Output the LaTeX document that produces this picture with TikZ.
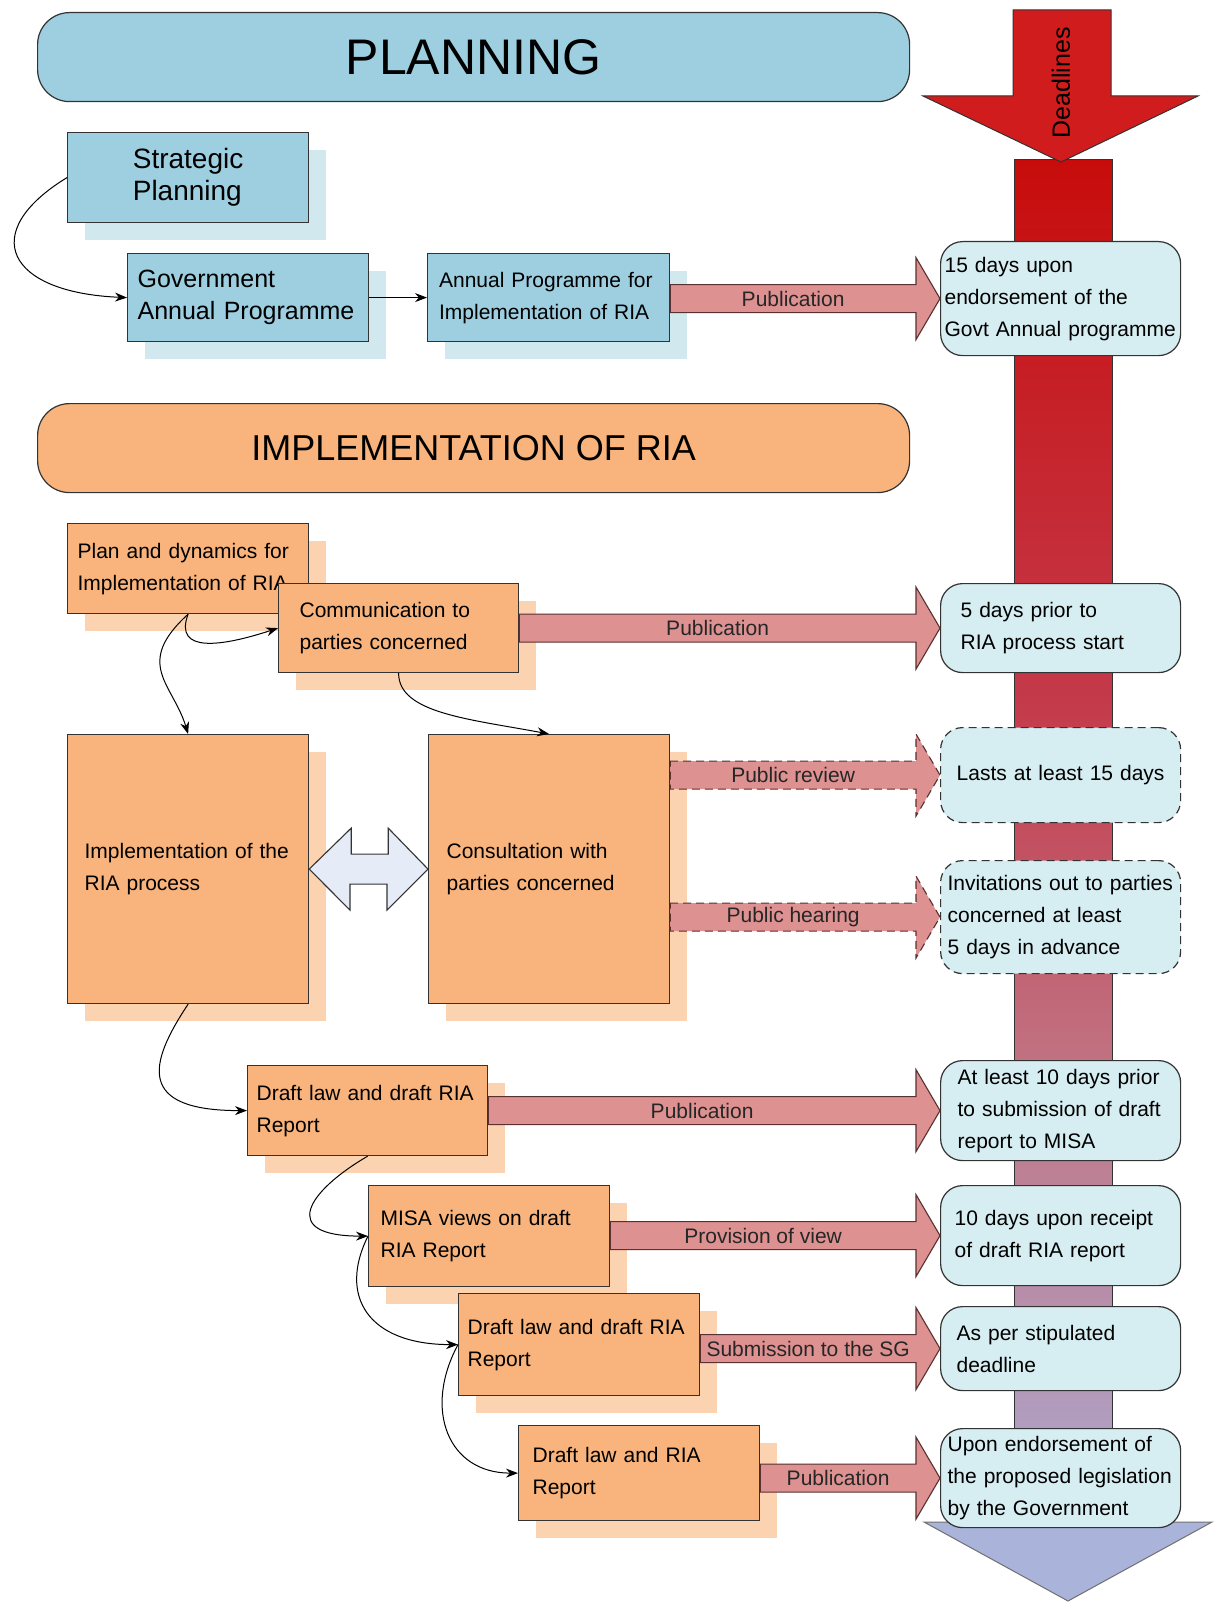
\documentclass[tikz,border=0pt]{standalone}
\usepackage{fontspec}
\setmainfont{Liberation Sans}
\usetikzlibrary{calc,shadows,arrows.meta}
\definecolor{bluefill}{HTML}{9DCFE0}
\definecolor{blueshadow}{HTML}{D2E8EF}
\definecolor{orangefill}{HTML}{F8B47C}
\definecolor{orangeshadow}{HTML}{FCD3B0}
\definecolor{deadfill}{HTML}{D6EDF1}
\definecolor{pinkfill}{HTML}{DD9191}
\definecolor{pinkline}{HTML}{5A3030}
\definecolor{edgecol}{HTML}{333333}
\definecolor{dblfill}{HTML}{E5EBF7}
\definecolor{redhead}{HTML}{D01C1C}
\definecolor{shaftA}{HTML}{C80C0C}
\definecolor{shaftB}{HTML}{C43A4A}
\definecolor{shaftC}{HTML}{C07888}
\definecolor{shaftD}{HTML}{ACA8D0}
\definecolor{lavhead}{HTML}{AAB3DA}
\newcommand{\blockarrow}[4][]{%
  \coordinate (#3-s) at (#2.east |- #3.west);
  \draw[blockarr,#1] ($(#3-s)+(0,-14)$) -- ($(#3.west)+(-24,-14)$) -- ($(#3.west)+(-24,-41)$) -- (#3.west) -- ($(#3.west)+(-24,41)$) -- ($(#3.west)+(-24,14)$) -- ($(#3-s)+(0,14)$) -- cycle;
  \node[alabel] (#3-lab) at ($(#3-s)!0.5!($(#3.west)+(-24,0)$)$) {#4};}
\begin{document}
\begin{tikzpicture}[x=1pt,y=-1pt,
  base/.style={draw=edgecol, line width=1.2pt, inner ysep=0pt, inner xsep=2pt, align=left, anchor=north west, font=\fontsize{21}{32}\selectfont},
  bbox/.style={base, fill=bluefill, drop shadow={shadow xshift=17pt, shadow yshift=-17pt, opacity=1, fill=blueshadow}},
  obox/.style={base, fill=orangefill, drop shadow={shadow xshift=17pt, shadow yshift=-17pt, opacity=1, fill=orangeshadow}},
  dbox/.style={base, fill=deadfill, rounded corners=22pt, minimum width=240pt},
  dashbox/.style={dash pattern=on 8pt off 5pt},
  banner/.style={draw=edgecol, line width=1.2pt, rounded corners=32pt, minimum width=872pt, minimum height=89pt, anchor=north west},
  conn/.style={draw=black, line width=1pt, -{Stealth[length=12pt,width=9pt]}},
  blockarr/.style={draw=pinkline, fill=pinkfill, line width=1.1pt, line join=miter},
  alabel/.style={font=\fontsize{21}{24}\selectfont, text=black!85, inner sep=0pt},
]
\fill[white] (0,0) rectangle (1224,1602);
\useasboundingbox (0,0) rectangle (1224,1602);

% deadline shaft
\shade[top color=shaftA, bottom color=shaftB] (1014,160) rectangle (1112,700);
\shade[top color=shaftB, bottom color=shaftC] (1014,699) rectangle (1112,1100);
\shade[top color=shaftC, bottom color=shaftD] (1014,1099) rectangle (1112,1522);
\draw[edgecol, line width=1pt] (1014,160) rectangle (1112,1522);
\draw[fill=redhead, draw=edgecol, line width=1pt] (1013,10) -- (1111,10) -- (1111,96) -- (1198,96) -- (1061,162) -- (923,96) -- (1013,96) -- cycle;
\node[rotate=90, font=\fontsize{25}{25}\selectfont, inner sep=0pt] (dl) at (1061,83) {Deadlines};
\draw[fill=lavhead, draw=edgecol!70, line width=1pt] (924,1522) -- (1212,1522) -- (1068,1601) -- cycle;

% banners
\node[banner, fill=bluefill, font=\fontsize{50}{60}\selectfont] (bplan) at (37,12) {PLANNING};
\node[banner, fill=orangefill, font=\fontsize{36}{44}\selectfont] (bimpl) at (37,403) {IMPLEMENTATION OF RIA};

% deadline boxes
\node[dbox, minimum height=114pt, text width=232pt] (d1) at (940,241) {15 days upon\\endorsement of the\\Govt Annual programme};
\node[dbox, minimum height=89pt, text width=200pt] (d2) at (940,583) {5 days prior to\\RIA process start};
\node[dbox, dashbox, minimum height=95pt, text width=232pt, align=center] (d3) at (940,727) {Lasts at least 15 days};
\node[dbox, dashbox, minimum height=113pt, text width=226pt] (d4) at (940,860) {Invitations out to parties\\concerned at least\\5 days in advance};
\node[dbox, minimum height=100pt, text width=206pt] (d5) at (940,1060) {At least 10 days prior\\to submission of draft\\report to MISA};
\node[dbox, minimum height=100pt, text width=212pt] (d6) at (940,1185) {10 days upon receipt\\of draft RIA report};
\node[dbox, minimum height=84pt, text width=208pt] (d7) at (940,1306) {As per stipulated\\deadline};
\node[dbox, minimum height=99pt, text width=226pt] (d8) at (940,1428) {Upon endorsement of\\the proposed legislation\\by the Government};

% planning boxes
\node[bbox, minimum width=241pt, minimum height=90pt, font=\fontsize{28}{32}\selectfont] (sp) at (67,132) {Strategic\\Planning};
\node[bbox, minimum width=241pt, minimum height=88pt, text width=221pt, font=\fontsize{25}{32}\selectfont] (gov) at (127,253) {Government\\Annual Programme};
\node[bbox, minimum width=242pt, minimum height=88pt, text width=219pt] (annual) at (427,253) {Annual Programme for\\Implementation of RIA};

% implementation boxes
\node[obox, minimum width=241pt, minimum height=90pt, text width=221pt] (pd) at (67,523) {Plan and dynamics for\\Implementation of RIA};
\node[obox, minimum width=240pt, minimum height=89pt, text width=198pt] (comm) at (278,583) {Communication to\\parties concerned};
\node[obox, minimum width=241pt, minimum height=269pt, text width=207pt] (impl) at (67,734) {Implementation of the\\RIA process};
\node[obox, minimum width=241pt, minimum height=269pt, text width=205pt] (cons) at (428,734) {Consultation with\\parties concerned};
\node[obox, minimum width=240pt, minimum height=90pt, text width=222pt] (dr1) at (247,1065) {Draft law and draft RIA\\Report};
\node[obox, minimum width=241pt, minimum height=101pt, text width=217pt] (misa) at (368,1185) {MISA views on draft\\RIA Report};
\node[obox, minimum width=241pt, minimum height=102pt, text width=223pt] (dr2) at (458,1293) {Draft law and draft RIA\\Report};
\node[obox, minimum width=241pt, minimum height=95pt, text width=213pt] (dr3) at (518,1425) {Draft law and RIA\\Report};

% double arrow between implementation and consultation
\draw[fill=dblfill, draw=edgecol, line width=1.1pt, line join=miter] (impl.east) -- ++(42,-41) -- ++(0,26) -- ++(37,0) -- ++(0,-26) -- (cons.west) -- ++(-41,41) -- ++(0,-26) -- ++(-37,0) -- ++(0,26) -- cycle;

% block arrows
\blockarrow{annual}{d1}{Publication}
\blockarrow{comm}{d2}{Publication}
\blockarrow[dashbox]{cons}{d3}{Public review}
\blockarrow[dashbox]{cons}{d4}{Public hearing}
\blockarrow{dr1}{d5}{Publication}
\blockarrow{misa}{d6}{Provision of view}
\blockarrow{dr2}{d7}{Submission to the SG}
\blockarrow{dr3}{d8}{Publication}

% connectors
\draw[conn] (sp.west) .. controls +(-90,55) and +(-120,-5) .. (gov.west);
\draw[conn] (gov.east) -- (annual.west);
\draw[conn] (pd.south) .. controls +(-15,40) and +(-55,18) .. (comm.west);
\draw[conn] (pd.south) .. controls +(-55,50) and +(-15,-50) .. (impl.north);
\draw[conn] (comm.south) .. controls +(0,40) and +(-80,-15) .. (cons.north);
\draw[conn] (impl.south) .. controls +(-40,60) and +(-110,0) .. (dr1.west);
\draw[conn] (dr1.south) .. controls +(-60,35) and +(-90,0) .. (misa.west);
\draw[conn] (misa.west) .. controls +(-30,60) and +(-90,0) .. (dr2.west);
\draw[conn] (dr2.west) .. controls +(-35,65) and +(-70,0) .. (dr3.west);
\end{tikzpicture}
\end{document}
